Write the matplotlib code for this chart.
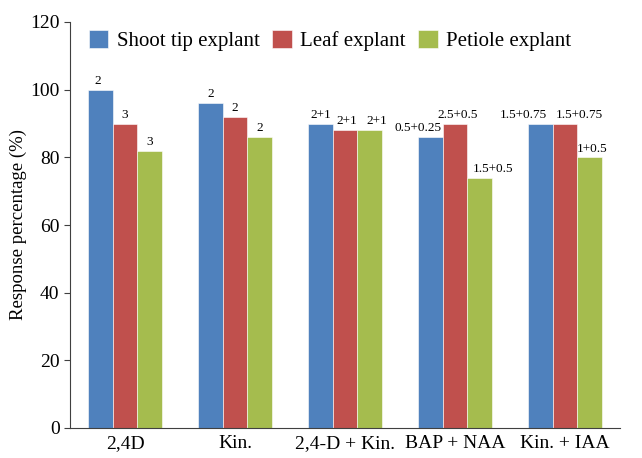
import matplotlib.pyplot as plt
import numpy as np

plt.rcParams['font.family'] = ['Liberation Serif', 'DejaVu Serif']

categories = ["2,4D", "Kin.", "2,4-D + Kin.", "BAP + NAA", "Kin. + IAA"]
series_names = ["Shoot tip explant", "Leaf explant", "Petiole explant"]
shoot_tip = [100, 96, 90, 86, 90]
leaf = [90, 92, 88, 90, 90]
petiole = [82, 86, 88, 74, 80]
shoot_tip_labels = ["2", "2", "2+1", "0.5+0.25", "1.5+0.75"]
leaf_labels = ["3", "2", "2+1", "2.5+0.5", "1.5+0.75"]
petiole_labels = ["3", "2", "2+1", "1.5+0.5", "1+0.5"]

colors = ["#4F81BD", "#C0504D", "#A5BC4E"]
# small horizontal nudges (points) so wide labels don't collide
nudges = [[-2, 0, 0, -9, -12],
          [0, 0, 1, 2, 10],
          [0, 0, 5, 10, 2]]

fig = plt.figure(figsize=(6.42, 4.58), dpi=100)
ax = fig.add_axes([70 / 642, 30 / 458, 550 / 642, 406 / 458])

x = np.arange(len(categories))
w = 0.223
values = [shoot_tip, leaf, petiole]
labels = [shoot_tip_labels, leaf_labels, petiole_labels]
for i in range(3):
    bars = ax.bar(x + (i - 1) * w, values[i], w, color=colors[i],
                  label=series_names[i], edgecolor="white", linewidth=0.4)
    for j, b in enumerate(bars):
        ax.annotate(labels[i][j], (b.get_x() + b.get_width() / 2, b.get_height()),
                    xytext=(nudges[i][j], 2), textcoords="offset points",
                    ha="center", va="bottom", fontsize=9.5)

ax.set_xlim(-0.5, 4.5)
ax.set_ylim(0, 120)
ax.set_yticks(np.arange(0, 121, 20))
ax.set_xticks(x)
ax.set_xticklabels(categories, fontsize=14)
ax.tick_params(axis="y", labelsize=14, length=4, color="#404040")
ax.tick_params(axis="x", length=0, pad=5)
ax.spines["top"].set_visible(False)
ax.spines["right"].set_visible(False)
ax.spines["left"].set_color("#404040")
ax.spines["bottom"].set_color("#404040")
ax.set_ylabel("Response percentage (%)", fontsize=13.5, labelpad=2)

ax.legend(loc="upper left", bbox_to_anchor=(0.034, 0.98), ncol=3, frameon=False,
          fontsize=15, handlelength=0.95, handleheight=0.95, handletextpad=0.4,
          columnspacing=0.6, borderpad=0, borderaxespad=0)

plt.savefig("out.png", dpi=100)
